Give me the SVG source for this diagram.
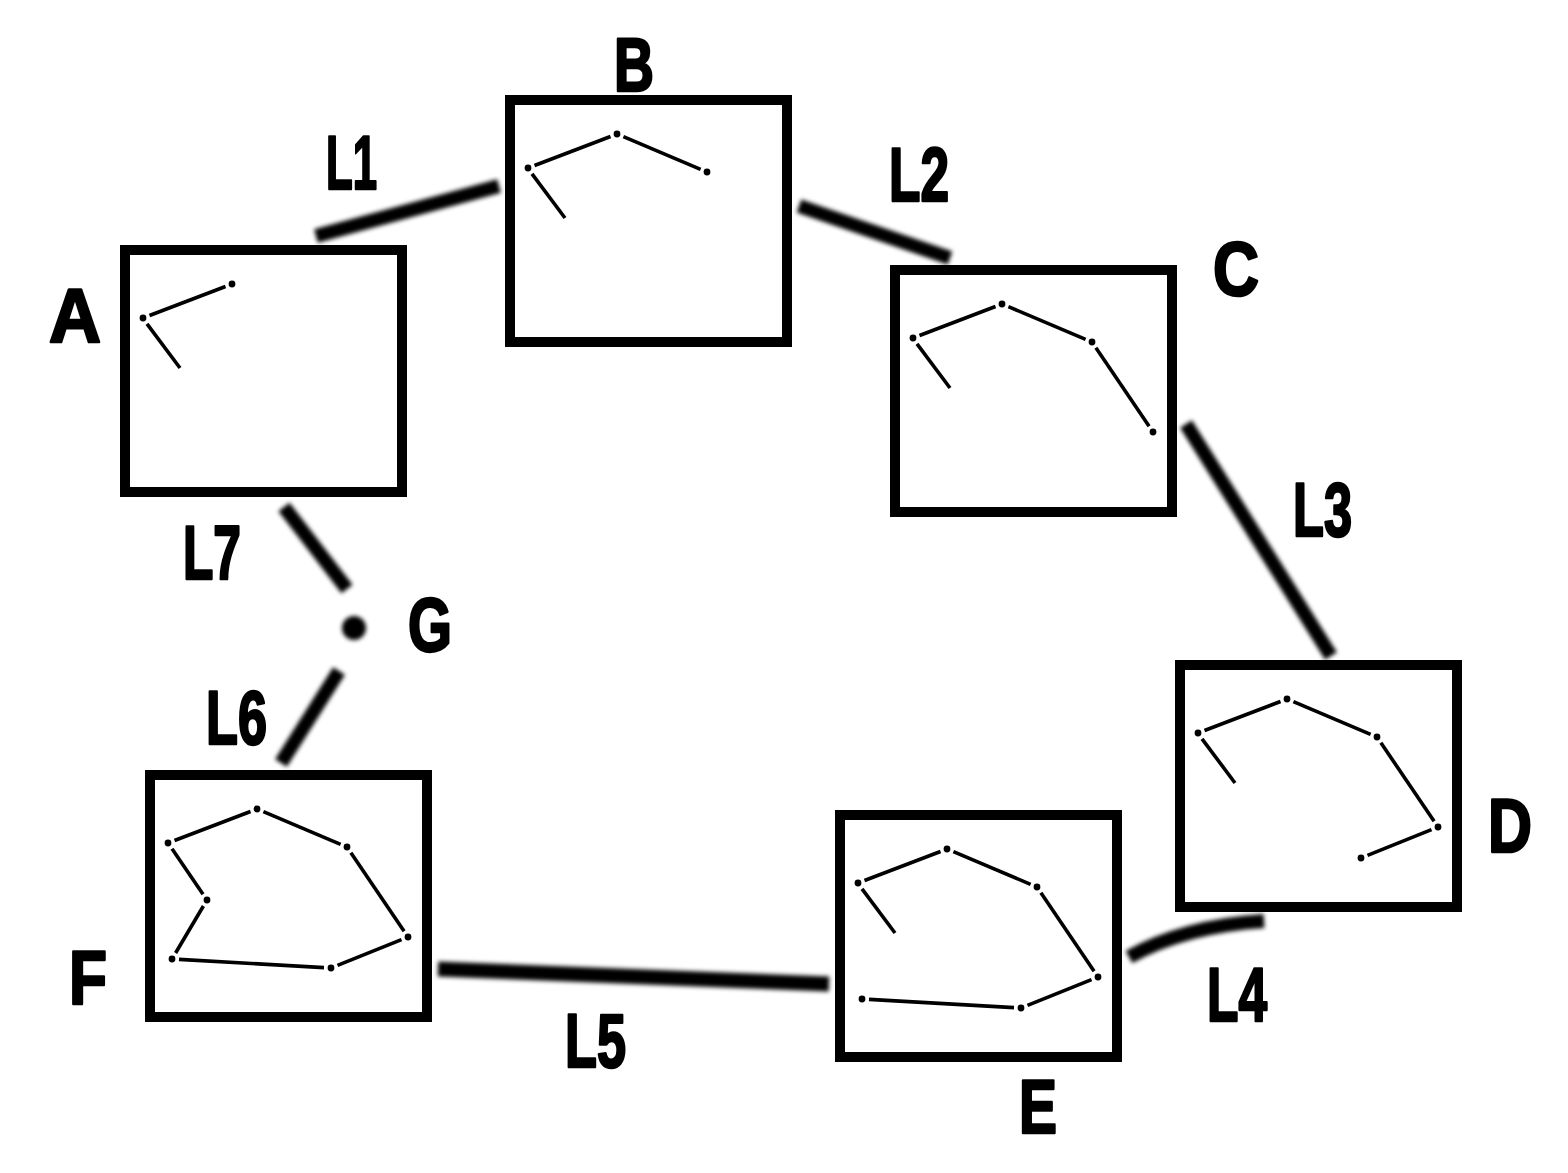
<svg xmlns="http://www.w3.org/2000/svg" width="1568" height="1173" viewBox="0 0 1568 1173">
<style>
.box{fill:#fff;stroke:#000;stroke-width:10}
.seg{fill:none;stroke:#000;stroke-width:3.6;stroke-linecap:butt}
.dot{fill:#000}
.conn{fill:none;stroke:#000;stroke-width:14;stroke-linecap:butt}
.lbl{font-family:"Liberation Sans",Arial,sans-serif;font-weight:bold;font-size:76px;fill:#000;stroke:#000;stroke-width:2.6;stroke-linejoin:round}
</style>
<defs>
<filter id="blur" x="-10%" y="-10%" width="120%" height="120%"><feGaussianBlur stdDeviation="2"/></filter>
<circle id="d" r="3.4" class="dot"/>
<path id="s12" class="seg" d="M29.5,70.5 L105.5,41.5"/>
<path id="s23" class="seg" d="M118.4,41.7 L195.6,74.3"/>
<path id="s34" class="seg" d="M205.9,82.8 L259.1,161.2"/>
<path id="s45" class="seg" d="M256.5,169.6 L192.5,195.4"/>
<path id="s56" class="seg" d="M179,197.6 L34,189.4"/>
<path id="s67" class="seg" d="M30.6,183 L58.4,136"/>
<path id="tail" class="seg" d="M27,78.8 L60,123"/>
<path id="s17" class="seg" d="M27,78.8 L58,124.2"/>
</defs>
<rect width="1568" height="1173" fill="#fff"/>

<g id="connectors" filter="url(#blur)">
<path class="conn" d="M316,236 L499,186"/>
<path class="conn" d="M799,206 L950,258"/>
<path class="conn" d="M1186,424 L1331,656"/>
<path class="conn" d="M1129,957 Q1185,926 1264,921"/>
<path class="conn" d="M438,969 L829,984" style="stroke-width:15"/>
<path class="conn" d="M339,671 L281,763"/>
<path class="conn" d="M284,507 L347,589"/>
<circle cx="354" cy="628" r="12" fill="#000"/>
</g>

<g id="node-A" transform="translate(120,245)">
<rect class="box" x="5" y="5" width="277" height="242"/>
<use href="#s12"/><use href="#tail"/>
<use href="#d" x="23" y="73"/><use href="#d" x="112" y="39"/>
</g>
<g id="node-B" transform="translate(505,95)">
<rect class="box" x="5" y="5" width="277" height="242"/>
<use href="#s12"/><use href="#s23"/><use href="#tail"/>
<use href="#d" x="23" y="73"/><use href="#d" x="112" y="39"/><use href="#d" x="202" y="77"/>
</g>
<g id="node-C" transform="translate(890,265)">
<rect class="box" x="5" y="5" width="277" height="242"/>
<use href="#s12"/><use href="#s23"/><use href="#s34"/><use href="#tail"/>
<use href="#d" x="23" y="73"/><use href="#d" x="112" y="39"/><use href="#d" x="202" y="77"/><use href="#d" x="263" y="167"/>
</g>
<g id="node-D" transform="translate(1175,660)">
<rect class="box" x="5" y="5" width="277" height="242"/>
<use href="#s12"/><use href="#s23"/><use href="#s34"/><use href="#s45"/><use href="#tail"/>
<use href="#d" x="23" y="73"/><use href="#d" x="112" y="39"/><use href="#d" x="202" y="77"/><use href="#d" x="263" y="167"/><use href="#d" x="186" y="198"/>
</g>
<g id="node-E" transform="translate(835,810)">
<rect class="box" x="5" y="5" width="277" height="242"/>
<use href="#s12"/><use href="#s23"/><use href="#s34"/><use href="#s45"/><use href="#s56"/><use href="#tail"/>
<use href="#d" x="23" y="73"/><use href="#d" x="112" y="39"/><use href="#d" x="202" y="77"/><use href="#d" x="263" y="167"/><use href="#d" x="186" y="198"/><use href="#d" x="27" y="189"/>
</g>
<g id="node-F" transform="translate(145,770)">
<rect class="box" x="5" y="5" width="277" height="242"/>
<use href="#s12"/><use href="#s23"/><use href="#s34"/><use href="#s45"/><use href="#s56"/><use href="#s67"/><use href="#s17"/>
<use href="#d" x="23" y="73"/><use href="#d" x="112" y="39"/><use href="#d" x="202" y="77"/><use href="#d" x="263" y="167"/><use href="#d" x="186" y="198"/><use href="#d" x="27" y="189"/><use href="#d" x="62" y="130"/>
</g>

<g id="labels">
<text class="lbl" x="49" y="342" textLength="52" lengthAdjust="spacingAndGlyphs">A</text>
<text class="lbl" x="614" y="91" textLength="40" lengthAdjust="spacingAndGlyphs">B</text>
<text class="lbl" x="1213" y="295" textLength="46" lengthAdjust="spacingAndGlyphs">C</text>
<text class="lbl" x="1488" y="852" textLength="44" lengthAdjust="spacingAndGlyphs">D</text>
<text class="lbl" x="1019" y="1133" textLength="38" lengthAdjust="spacingAndGlyphs">E</text>
<text class="lbl" x="69" y="1004" textLength="38" lengthAdjust="spacingAndGlyphs">F</text>
<text class="lbl" x="408" y="651" textLength="44" lengthAdjust="spacingAndGlyphs">G</text>
<text class="lbl" x="326" y="189" textLength="51" lengthAdjust="spacingAndGlyphs">L1</text>
<text class="lbl" x="889" y="201" textLength="60" lengthAdjust="spacingAndGlyphs">L2</text>
<text class="lbl" x="1293" y="536" textLength="59" lengthAdjust="spacingAndGlyphs">L3</text>
<text class="lbl" x="1207" y="1021" textLength="60" lengthAdjust="spacingAndGlyphs">L4</text>
<text class="lbl" x="565" y="1067" textLength="61" lengthAdjust="spacingAndGlyphs">L5</text>
<text class="lbl" x="206" y="744" textLength="61" lengthAdjust="spacingAndGlyphs">L6</text>
<text class="lbl" x="183" y="579" textLength="58" lengthAdjust="spacingAndGlyphs">L7</text>
</g>
</svg>
